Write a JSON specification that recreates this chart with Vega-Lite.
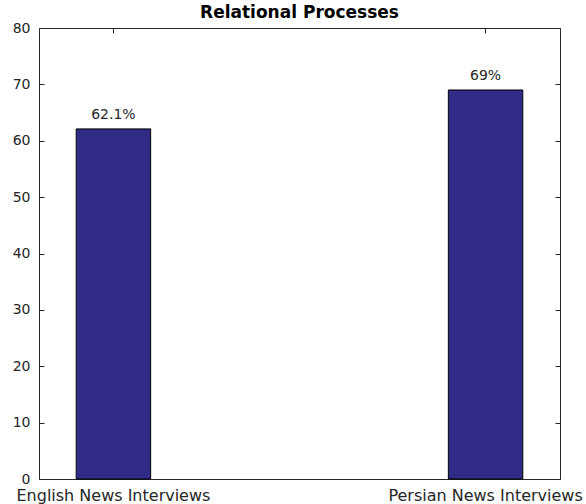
{
  "$schema": "https://vega.github.io/schema/vega-lite/v6.json",
  "width": 521,
  "height": 451,
  "autosize": {"type": "none"},
  "padding": {"left": 39, "top": 28, "right": 26, "bottom": 25},
  "background": "white",
  "title": {
    "text": "Relational Processes",
    "font": "DejaVu Sans",
    "fontSize": 17,
    "fontWeight": "bold",
    "color": "#000000",
    "anchor": "middle",
    "baseline": "bottom",
    "offset": 4,
    "dy": 22
  },
  "config": {
    "view": {"stroke": "#262626", "strokeWidth": 1},
    "axis": {"grid": false, "domain": false, "labelFont": "DejaVu Sans", "labelColor": "#262626", "tickColor": "#262626"}
  },
  "data": {
    "values": [
      {"group": "English News Interviews", "value": 62.1, "label": "62.1%"},
      {"group": "Persian News Interviews", "value": 69, "label": "69%"}
    ]
  },
  "layer": [
    {
      "mark": {"type": "bar", "fill": "#302b87", "stroke": "#000000", "strokeWidth": 1},
      "encoding": {
        "x": {
          "field": "group", "type": "nominal", "sort": null,
          "scale": {"paddingInner": 0.8, "paddingOuter": 0.1},
          "axis": {"title": null, "orient": "bottom", "labelAngle": 0, "ticks": false, "labelPadding": 8, "labelFontSize": 16, "labelBaseline": "top", "labelLimit": 0}
        },
        "y": {
          "field": "value", "type": "quantitative",
          "scale": {"domain": [0, 80], "nice": false},
          "axis": {"title": null, "orient": "left", "values": [0,10,20,30,40,50,60,70,80], "tickSize": -5, "labelPadding": 14, "labelFontSize": 14}
        }
      }
    },
    {
      "mark": {"type": "text", "font": "DejaVu Sans", "fontSize": 14, "color": "#262626", "baseline": "alphabetic", "dy": -10},
      "encoding": {
        "x": {
          "field": "group", "type": "nominal", "sort": null,
          "axis": {"title": null, "orient": "top", "labels": false, "tickSize": -5}
        },
        "y": {
          "field": "value", "type": "quantitative",
          "axis": {"title": null, "orient": "right", "labels": false, "values": [0,10,20,30,40,50,60,70,80], "tickSize": -5}
        },
        "text": {"field": "label"}
      }
    }
  ],
  "resolve": {"axis": {"x": "independent", "y": "independent"}}
}
